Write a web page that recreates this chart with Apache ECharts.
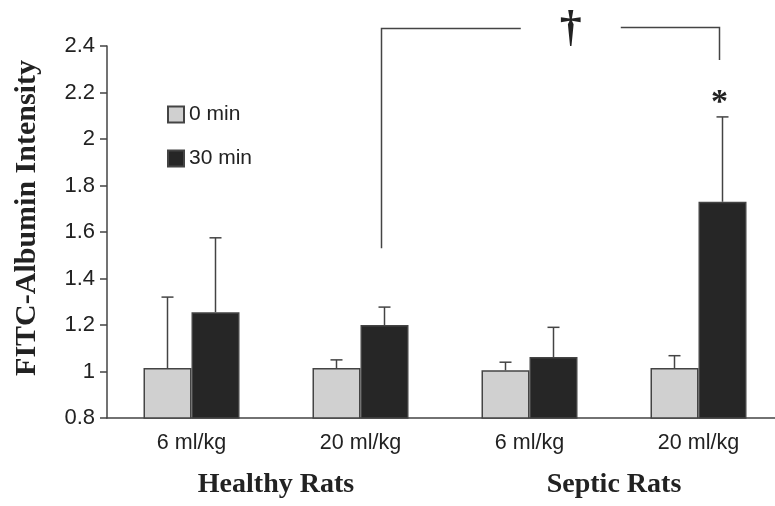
<!DOCTYPE html>
<html>
<head>
<meta charset="utf-8">
<script src="https://cdn.jsdelivr.net/npm/echarts@6/dist/echarts.min.js"></script>
<style>
  html, body { margin: 0; padding: 0; background: #fff; }
  #chart { width: 775px; height: 506px; }
</style>
</head>
<body>
<div id="chart"></div>
<script>
// data
const doses = ['6 ml/kg', '20 ml/kg', '6 ml/kg', '20 ml/kg']
const groups = ['Healthy Rats', 'Septic Rats']
const min0 = [1.015, 1.015, 1.005, 1.015]
const min0Top = [1.32, 1.05, 1.04, 1.068]   // top of error bar
const min30 = [1.255, 1.20, 1.062, 1.73]
const min30Top = [1.575, 1.277, 1.19, 2.095]
const yTicks = [0.8, 1.0, 1.2, 1.4, 1.6, 1.8, 2.0, 2.2, 2.4]

const BAR_W = 48
const LINE = '#444'
const sans = 'Liberation Sans, Arial, sans-serif'
const serif = 'Liberation Serif, Times New Roman, serif'

const chart = echarts.init(document.getElementById('chart'))

function errSeries(name, tops, vals, off) {
  return {
    name: name + ' err',
    type: 'custom',
    silent: true,
    z: 1,
    data: vals.map((v, i) => [i, v, tops[i]]),
    renderItem(params, api) {
      const base = api.coord([api.value(0), api.value(1)])
      const top = api.coord([api.value(0), api.value(2)])
      const x = base[0] + off
      return {
        type: 'group',
        children: [
          { type: 'line', shape: { x1: x, y1: base[1], x2: x, y2: top[1] }, style: { stroke: LINE, lineWidth: 1.5 } },
          { type: 'line', shape: { x1: x - 6, y1: top[1], x2: x + 6, y2: top[1] }, style: { stroke: LINE, lineWidth: 1.5 } }
        ]
      }
    }
  }
}

chart.setOption({
  animation: false,
  // the axis runs past the right edge of the picture
  grid: { left: 107, top: 46, width: 676, height: 372, outerBoundsMode: 'none' },
  legend: {
    orient: 'vertical',
    left: 162,
    top: 99,
    icon: 'rect',
    itemWidth: 16,
    itemHeight: 16,
    itemGap: 23,
    data: ['0 min', '30 min'],
    textStyle: { fontFamily: sans, fontSize: 21, color: '#222' }
  },
  xAxis: [
    {
      type: 'category',
      data: doses,
      axisLine: { lineStyle: { color: LINE, width: 1.5 } },
      axisTick: { length: 7, lineStyle: { color: LINE, width: 1.5 } },
      axisLabel: { fontFamily: sans, fontSize: 21.5, color: '#222', margin: 14 }
    },
    {
      type: 'category',
      data: groups,
      position: 'bottom',
      axisLine: { show: false },
      axisTick: { show: false },
      axisLabel: { fontFamily: serif, fontWeight: 'bold', fontSize: 28, color: '#222', margin: 53 }
    }
  ],
  yAxis: {
    type: 'value',
    min: 0.8,
    max: 2.4,
    interval: 0.2,
    splitLine: { show: false },
    axisLine: { show: true, lineStyle: { color: LINE, width: 1.5 } },
    axisTick: { show: true, length: 7, lineStyle: { color: LINE, width: 1.5 } },
    axisLabel: {
      fontFamily: sans, fontSize: 22, color: '#222', margin: 12,
      formatter: v => yTicks.includes(Math.round(v * 10) / 10) ? String(Math.round(v * 10) / 10) : ''
    }
  },
  series: [
    {
      name: '0 min',
      type: 'bar',
      barWidth: BAR_W,
      barGap: '0%',
      z: 2,
      itemStyle: { color: '#d0d0d0', borderColor: LINE, borderWidth: 1.5 },
      data: min0
    },
    {
      name: '30 min',
      type: 'bar',
      barWidth: BAR_W,
      barGap: '0%',
      z: 2,
      itemStyle: { color: '#262626', borderColor: LINE, borderWidth: 1.5 },
      data: min30
    },
    errSeries('0 min', min0Top, min0, -BAR_W / 2),
    errSeries('30 min', min30Top, min30, BAR_W / 2)
  ]
})

// significance bracket between healthy 20 ml/kg and septic 20 ml/kg (30 min)
const px = (i, v) => chart.convertToPixel({ gridIndex: 0 }, [i, v])
const left = px(1, 1.53)
const right = px(3, 2.34)
const lineY = px(1, 2.475)[1]
const lx = left[0] + BAR_W / 2 - 3
const rx = right[0] + BAR_W / 2 - 3
const dx = lx + (rx - lx) * 0.56
const starY = px(3, 2.155)[1]
const lineStyle = { stroke: LINE, lineWidth: 1.5 }

chart.setOption({
  graphic: [
    { type: 'text', x: 27, y: 218, rotation: Math.PI / 2, style: { text: 'FITC-Albumin Intensity', font: 'bold 30px ' + serif, fill: '#222', align: 'center', verticalAlign: 'middle' } },
    { type: 'polyline', shape: { points: [[lx, left[1]], [lx, lineY], [dx - 50, lineY]] }, style: Object.assign({ fill: null }, lineStyle) },
    { type: 'polyline', shape: { points: [[dx + 50, lineY - 1], [rx, lineY - 1], [rx, right[1]]] }, style: Object.assign({ fill: null }, lineStyle) },
    { type: 'text', x: dx, y: lineY + 1, style: { text: '\u2020', font: 'bold 44px ' + serif, fill: '#222', align: 'center', verticalAlign: 'middle' } },
    { type: 'text', x: rx, y: starY, style: { text: '*', font: 'bold 34px ' + serif, fill: '#222', align: 'center', verticalAlign: 'middle' } }
  ]
})
</script>
</body>
</html>
